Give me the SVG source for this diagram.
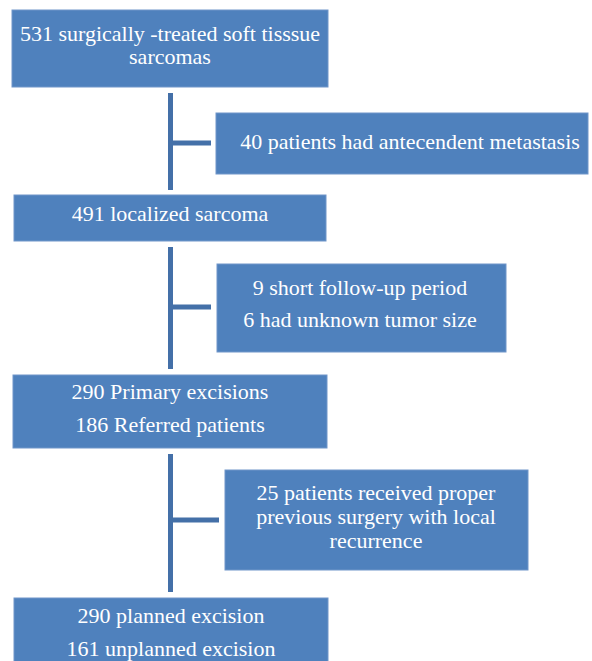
<svg xmlns="http://www.w3.org/2000/svg" width="592" height="661" viewBox="0 0 592 661">
<style>
.box{fill:#4f81bd;stroke:#7096c9;stroke-width:1}
.t{font-family:'Liberation Serif','Times New Roman',serif;font-size:22px;fill:#ffffff;text-anchor:middle}
.c{stroke:#4470a8;stroke-width:5;fill:none}
</style>
<rect width="592" height="661" fill="#ffffff"/>
<g id="connectors">
<path class="c" d="M170.5 93V190M170.5 143H211"/>
<path class="c" d="M170.5 247V369M170.5 307H211"/>
<path class="c" d="M170.5 454V592M170.5 520H219"/>
</g>
<g id="n1">
<rect class="box" x="12" y="10" width="316" height="77"/>
<text class="t" x="170" y="41">531 surgically -treated soft tisssue</text>
<text class="t" x="170" y="64">sarcomas</text>
</g>
<g id="n2">
<rect class="box" x="216" y="113" width="372" height="61"/>
<text class="t" x="410" y="149">40 patients had antecendent metastasis</text>
</g>
<g id="n3">
<rect class="box" x="14" y="195" width="312" height="46"/>
<text class="t" x="170" y="221">491 localized sarcoma</text>
</g>
<g id="n4">
<rect class="box" x="217" y="264" width="289" height="88"/>
<text class="t" x="360" y="295">9 short follow-up period</text>
<text class="t" x="360" y="327">6 had unknown tumor size</text>
</g>
<g id="n5">
<rect class="box" x="13" y="375" width="314" height="73"/>
<text class="t" x="170" y="399">290 Primary excisions</text>
<text class="t" x="170" y="432">186 Referred patients</text>
</g>
<g id="n6">
<rect class="box" x="225" y="470" width="303" height="100"/>
<text class="t" x="376" y="500">25 patients received proper</text>
<text class="t" x="376" y="524">previous surgery with local</text>
<text class="t" x="376" y="548">recurrence</text>
</g>
<g id="n7">
<rect class="box" x="14" y="598" width="314" height="70"/>
<text class="t" x="171" y="623">290 planned excision</text>
<text class="t" x="171" y="656">161 unplanned excision</text>
</g>
</svg>
